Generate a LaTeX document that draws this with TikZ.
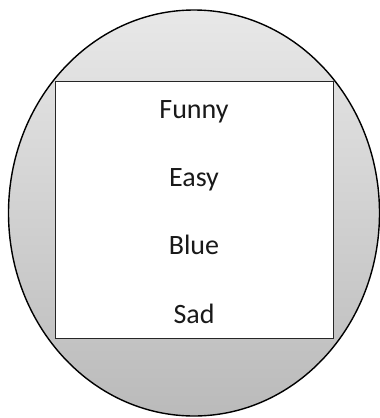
\documentclass[tikz,border=0pt]{standalone}
\usepackage{fontspec}
\setmainfont{Carlito}
\begin{document}
\begin{tikzpicture}[x=1pt,y=-1pt,
  outer/.style={draw=black,line width=1.4pt,top color=black!9,bottom color=black!27},
  box/.style={draw=black!85,line width=1pt,fill=white},
  word/.style={anchor=base,font=\fontsize{28}{32}\selectfont,text=black!90,inner sep=0pt}]
\useasboundingbox (0,0) rectangle (380,418);
\path[outer] (194,213) ellipse [x radius=185.5, y radius=203];
\draw[box] (55,81) rectangle (333.5,338);
\node[word] (funny) at (194,118.5) {Funny};
\node[word] (easy) at (194,186.7) {Easy};
\node[word] (blue) at (194,254.5) {Blue};
\node[word] (sad) at (194,323) {Sad};
\end{tikzpicture}
\end{document}
